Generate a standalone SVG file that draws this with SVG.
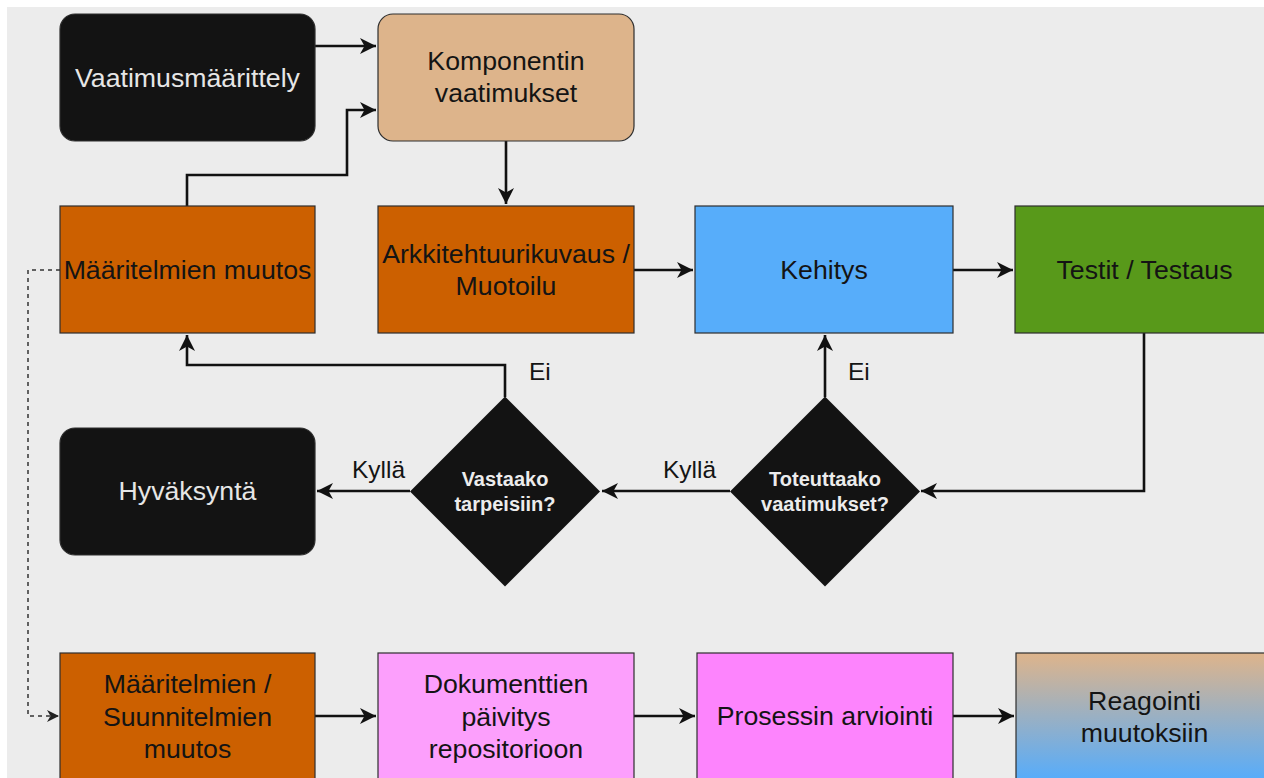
<svg xmlns="http://www.w3.org/2000/svg" width="1264" height="778" viewBox="0 0 1264 778">
  <style>
    text { font-family: "Liberation Sans", Arial, sans-serif; text-anchor: middle; }
    .t { font-size: 26.7px; fill: #141414; }
    .tl { font-size: 26.7px; fill: #e6e6e6; }
    .q { font-size: 20px; font-weight: bold; fill: #ececec; }
    .lbl { font-size: 24.5px; fill: #141414; text-anchor: start; }
    .box { stroke: #2e2e2e; stroke-width: 1.2; }
    .edge { fill: none; stroke: #111111; stroke-width: 2.6; }
    .dash { fill: none; stroke: #333333; stroke-width: 1.5; stroke-dasharray: 4 4; }
  </style>
  <defs>
    <marker id="arr" markerUnits="userSpaceOnUse" markerWidth="18" markerHeight="18" viewBox="0 0 18 18" refX="16" refY="9" orient="auto">
      <path d="M0,1 L16,9 L0,17 L4.5,9 Z" fill="#111111"/>
    </marker>
    <marker id="arrs" markerUnits="userSpaceOnUse" markerWidth="14" markerHeight="14" viewBox="0 0 14 14" refX="12" refY="7" orient="auto">
      <path d="M0,1 L12,7 L0,13 L3.5,7 Z" fill="#222222"/>
    </marker>
    <linearGradient id="grad" x1="0" y1="0" x2="0" y2="1">
      <stop offset="0" stop-color="#deb48b"/>
      <stop offset="1" stop-color="#56acfb"/>
    </linearGradient>
  </defs>

  <rect x="0" y="0" width="1264" height="778" fill="#ffffff"/>
  <rect x="7" y="7" width="1257" height="771" fill="#ececec"/>

  <g id="connectors">
    <path class="edge" d="M315,46 H376" marker-end="url(#arr)"/>
    <path class="edge" d="M187,206 V175 H347 V110 H376" marker-end="url(#arr)"/>
    <path class="edge" d="M506,141 V204" marker-end="url(#arr)"/>
    <path class="edge" d="M634,270 H693" marker-end="url(#arr)"/>
    <path class="edge" d="M953,270 H1013" marker-end="url(#arr)"/>
    <path class="edge" d="M1144,333 V491 H921" marker-end="url(#arr)"/>
    <path class="edge" d="M730,491 H602" marker-end="url(#arr)"/>
    <path class="edge" d="M825,397 V335" marker-end="url(#arr)"/>
    <path class="edge" d="M505,397 V365 H187 V335" marker-end="url(#arr)"/>
    <path class="edge" d="M410,491 H317" marker-end="url(#arr)"/>
    <path class="dash" d="M60,270 H28 V716 H59" marker-end="url(#arrs)"/>
    <path class="edge" d="M315,716 H376" marker-end="url(#arr)"/>
    <path class="edge" d="M634,716 H695" marker-end="url(#arr)"/>
    <path class="edge" d="M953,716 H1014" marker-end="url(#arr)"/>
    <text class="lbl" x="529" y="380">Ei</text>
    <text class="lbl" x="848" y="380">Ei</text>
    <text class="lbl" x="352" y="478">Kyllä</text>
    <text class="lbl" x="663" y="478">Kyllä</text>
  </g>

  <g id="vaatimusmaarittely">
    <rect class="box" x="60" y="14" width="255" height="127" rx="15" fill="#131313"/>
    <text class="tl" x="187.5" y="87">Vaatimusmäärittely</text>
  </g>
  <g id="komponentin-vaatimukset">
    <rect class="box" x="378" y="14" width="256" height="127" rx="15" fill="#ddb48b"/>
    <text class="t" x="506" y="70">Komponentin</text>
    <text class="t" x="506" y="102">vaatimukset</text>
  </g>
  <g id="maaritelmien-muutos">
    <rect class="box" x="60" y="206" width="255" height="127" fill="#cc6000"/>
    <text class="t" x="187.5" y="279">Määritelmien muutos</text>
  </g>
  <g id="arkkitehtuuri">
    <rect class="box" x="378" y="206" width="256" height="127" fill="#cc6000"/>
    <text class="t" x="506" y="263">Arkkitehtuurikuvaus /</text>
    <text class="t" x="506" y="295">Muotoilu</text>
  </g>
  <g id="kehitys">
    <rect class="box" x="695" y="206" width="258" height="127" fill="#57adfa"/>
    <text class="t" x="824" y="279">Kehitys</text>
  </g>
  <g id="testit">
    <rect class="box" x="1015" y="206" width="259" height="127" fill="#58991a"/>
    <text class="t" x="1144.5" y="279">Testit / Testaus</text>
  </g>
  <g id="hyvaksynta">
    <rect class="box" x="60" y="428" width="255" height="127" rx="15" fill="#131313"/>
    <text class="tl" x="187.5" y="500">Hyväksyntä</text>
  </g>
  <g id="vastaako">
    <polygon points="505,396.5 600,491.5 505,586.5 410,491.5" fill="#131313"/>
    <text class="q" x="505" y="486">Vastaako</text>
    <text class="q" x="505" y="511">tarpeisiin?</text>
  </g>
  <g id="toteuttaako">
    <polygon points="825,396.5 920,491.5 825,586.5 730,491.5" fill="#131313"/>
    <text class="q" x="825" y="486">Toteuttaako</text>
    <text class="q" x="825" y="511">vaatimukset?</text>
  </g>
  <g id="suunnitelmien-muutos">
    <rect class="box" x="60" y="653" width="255" height="127" fill="#cc6000"/>
    <text class="t" x="187.5" y="693">Määritelmien /</text>
    <text class="t" x="187.5" y="725.5">Suunnitelmien</text>
    <text class="t" x="187.5" y="758">muutos</text>
  </g>
  <g id="dokumenttien-paivitys">
    <rect class="box" x="378" y="653" width="256" height="127" fill="#fc9ffc"/>
    <text class="t" x="506" y="693">Dokumenttien</text>
    <text class="t" x="506" y="725.5">päivitys</text>
    <text class="t" x="506" y="758">repositorioon</text>
  </g>
  <g id="prosessin-arviointi">
    <rect class="box" x="697" y="653" width="256" height="127" fill="#fd84fd"/>
    <text class="t" x="825" y="725">Prosessin arviointi</text>
  </g>
  <g id="reagointi">
    <rect class="box" x="1016" y="653" width="259" height="127" fill="url(#grad)"/>
    <text class="t" x="1144.5" y="710">Reagointi</text>
    <text class="t" x="1144.5" y="742">muutoksiin</text>
  </g>
</svg>
